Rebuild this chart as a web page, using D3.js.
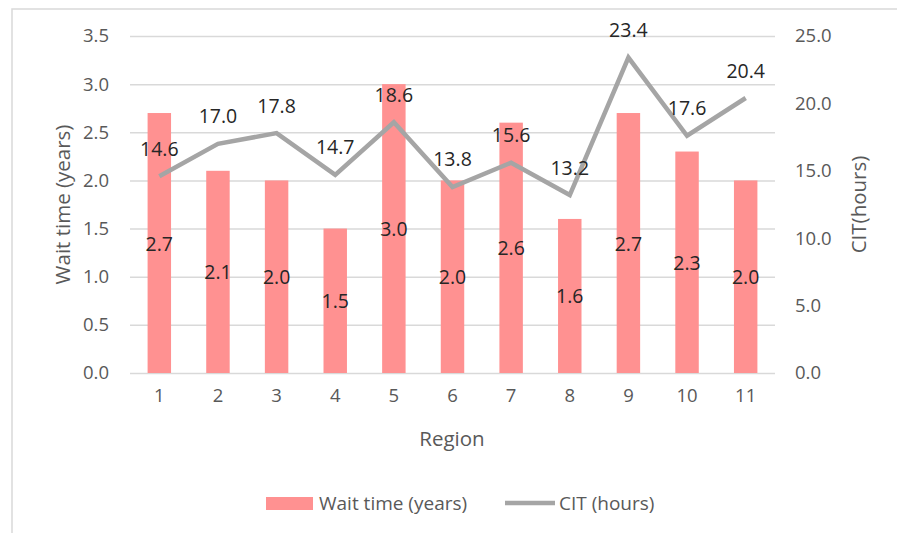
<!DOCTYPE html>
<html><head><meta charset="utf-8">
<script src="https://cdn.jsdelivr.net/npm/d3@7"></script>
<style>body{margin:0;background:#fff}svg{display:block}text{font-family:"Open Sans",Lato,sans-serif}</style>
</head><body>
<svg id="c" width="897" height="533"></svg>
<script>
const regions = ["1","2","3","4","5","6","7","8","9","10","11"];
const waitTime = [2.7,2.1,2.0,1.5,3.0,2.0,2.6,1.6,2.7,2.3,2.0];
const cit = [14.6,17.0,17.8,14.7,18.6,13.8,15.6,13.2,23.4,17.6,20.4];
const leftTicks = [0,0.5,1.0,1.5,2.0,2.5,3.0,3.5];
const rightTicks = [0,5,10,15,20,25];

const svg = d3.select("#c");
svg.append("rect").attr("x",12).attr("y",9).attr("width",900).attr("height",540)
  .attr("fill","#fff").attr("stroke","#d9d9d9").attr("stroke-width",1.5);

const L=130, R=775, T=36, B=373;
const x = d3.scaleBand().domain(regions).range([L,R]).paddingInner(0.6).paddingOuter(0.3);
const xc = d3.scaleBand().domain(regions).range([L,R]);
const yL = d3.scaleLinear().domain([0,3.5]).range([B,T]);
const yR = d3.scaleLinear().domain([0,25]).range([B,T]);
const FS = "18.5px", DFS = "19.5px", TFS = "20.5px", LFS = "19px";

// gridlines
const grid = d3.axisLeft(yL).tickValues(leftTicks).tickSize(-(R-L)).tickFormat("");
svg.append("g").attr("transform",`translate(${L},0)`).call(grid)
  .call(g=>g.select(".domain").remove())
  .call(g=>g.selectAll("line").attr("stroke","#d9d9d9").attr("stroke-width",1.5));

// left axis labels
svg.append("g").attr("transform",`translate(${L},0)`)
  .call(d3.axisLeft(yL).tickValues(leftTicks).tickSize(0).tickPadding(21).tickFormat(d3.format(".1f")))
  .call(g=>g.select(".domain").remove())
  .call(g=>g.selectAll("text").attr("fill","#595959").style("font-size",FS));

// right axis labels
svg.append("g").attr("transform",`translate(${R},0)`)
  .call(d3.axisRight(yR).tickValues(rightTicks).tickSize(0).tickPadding(20).tickFormat(d3.format(".1f")))
  .call(g=>g.select(".domain").remove())
  .call(g=>g.selectAll("text").attr("fill","#595959").style("font-size",FS));

// x axis
svg.append("g").attr("transform",`translate(0,${B})`)
  .call(d3.axisBottom(xc).tickSize(0).tickPadding(16))
  .call(g=>g.select(".domain").remove())
  .call(g=>g.selectAll("text").attr("fill","#595959").style("font-size",FS));

// bars
svg.append("g").selectAll("rect").data(regions).join("rect")
  .attr("x",d=>x(d)).attr("width",x.bandwidth())
  .attr("y",(d,i)=>yL(waitTime[i])).attr("height",(d,i)=>B-yL(waitTime[i]))
  .attr("fill","#ff9191");

// line
const line = d3.line().x((d,i)=>xc(regions[i])+xc.bandwidth()/2).y(d=>yR(d));
svg.append("path").datum(cit).attr("d",line).attr("fill","none")
  .attr("stroke","#a5a5a5").attr("stroke-width",4.5).attr("stroke-linejoin","miter");

// bar labels
svg.append("g").selectAll("text").data(regions).join("text")
  .attr("x",d=>xc(d)+xc.bandwidth()/2)
  .attr("y",(d,i)=>(yL(waitTime[i])+B)/2)
  .attr("text-anchor","middle").attr("dominant-baseline","central")
  .attr("fill","#262626").style("font-size",DFS)
  .text((d,i)=>waitTime[i].toFixed(1));

// line labels
svg.append("g").selectAll("text").data(regions).join("text")
  .attr("x",d=>xc(d)+xc.bandwidth()/2)
  .attr("y",(d,i)=>yR(cit[i])-28)
  .attr("text-anchor","middle").attr("dominant-baseline","central")
  .attr("fill","#262626").style("font-size",DFS)
  .text((d,i)=>cit[i].toFixed(1));

// axis titles
svg.append("text").attr("transform",`translate(62,${(T+B)/2}) rotate(-90)`)
  .attr("text-anchor","middle").attr("dominant-baseline","central")
  .attr("fill","#595959").style("font-size",TFS).text("Wait time (years)");
svg.append("text").attr("transform",`translate(858,${(T+B)/2}) rotate(-90)`)
  .attr("text-anchor","middle").attr("dominant-baseline","central")
  .attr("fill","#595959").style("font-size",TFS).text("CIT(hours)");
svg.append("text").attr("x",452).attr("y",438)
  .attr("text-anchor","middle").attr("dominant-baseline","central")
  .attr("fill","#595959").style("font-size",TFS).text("Region");

// legend
const lg = svg.append("g");
lg.append("rect").attr("x",266).attr("y",497).attr("width",47).attr("height",13).attr("fill","#ff9191");
lg.append("text").attr("x",319).attr("y",503).attr("dominant-baseline","central")
  .attr("fill","#595959").style("font-size",LFS).text("Wait time (years)");
lg.append("line").attr("x1",505).attr("x2",555).attr("y1",503).attr("y2",503)
  .attr("stroke","#a5a5a5").attr("stroke-width",4.5);
lg.append("text").attr("x",559).attr("y",503).attr("dominant-baseline","central")
  .attr("fill","#595959").style("font-size",LFS).text("CIT (hours)");
</script>
</body></html>
